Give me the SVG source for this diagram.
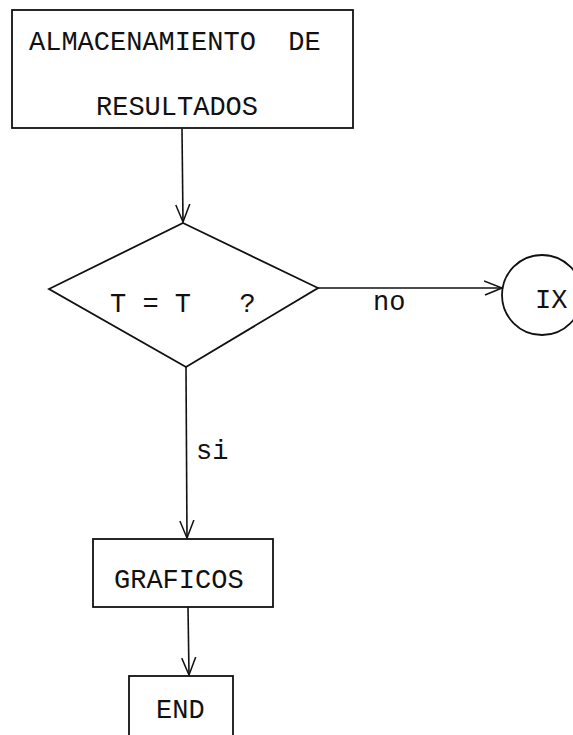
<svg xmlns="http://www.w3.org/2000/svg" width="573" height="735" viewBox="0 0 573 735">
<style>
.box{fill:none;stroke:#111;stroke-width:1.8}
.ln{fill:none;stroke:#111;stroke-width:1.6}
.t{font-family:"Liberation Mono","DejaVu Sans Mono",monospace;font-size:27px;fill:#111}
</style>
<defs>
<marker id="arr" markerWidth="24" markerHeight="20" refX="18" refY="8" orient="auto" markerUnits="userSpaceOnUse" viewBox="0 0 24 20">
<path d="M0,1 L18,8 L1,15" fill="none" stroke="#111" stroke-width="1.5"/>
</marker>
</defs>
<rect width="573" height="735" fill="#fff"/>
<g id="connectors">
<line class="ln" x1="182" y1="129" x2="183" y2="222" marker-end="url(#arr)"/>
<line class="ln" x1="318" y1="288" x2="502" y2="288" marker-end="url(#arr)"/>
<line class="ln" x1="186" y1="367" x2="187" y2="538" marker-end="url(#arr)"/>
<line class="ln" x1="188" y1="607" x2="189" y2="675" marker-end="url(#arr)"/>
<text class="t" x="373" y="310">no</text>
<text class="t" x="196" y="459">si</text>
</g>
<g id="almacenamiento">
<rect class="box" x="12" y="10" width="341" height="118"/>
<text class="t" x="29" y="50" xml:space="preserve">ALMACENAMIENTO  DE</text>
<text class="t" x="96" y="115">RESULTADOS</text>
</g>
<g id="decision">
<polygon class="box" points="183,223 318,288 186,367 49,289"/>
<text class="t" x="110" y="312" xml:space="preserve">T = T   ?</text>
</g>
<g id="ix">
<circle class="box" cx="542" cy="295" r="40"/>
<text class="t" x="535" y="308">IX</text>
</g>
<g id="graficos">
<rect class="box" x="93" y="539" width="180" height="68"/>
<text class="t" x="114" y="588">GRAFICOS</text>
</g>
<g id="end">
<rect class="box" x="129" y="676" width="104" height="70"/>
<text class="t" x="156" y="718">END</text>
</g>
</svg>
